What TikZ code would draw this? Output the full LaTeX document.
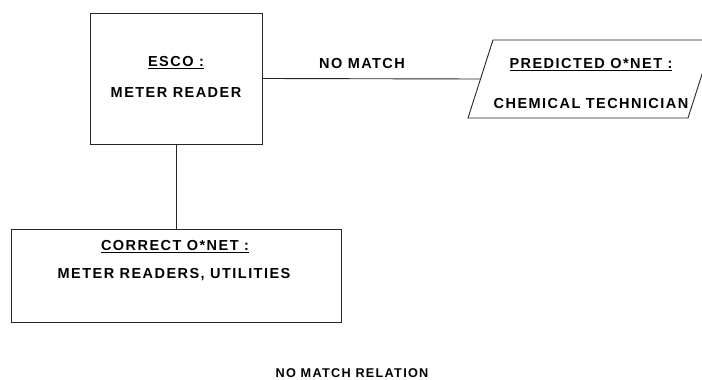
\documentclass[tikz,border=0pt]{standalone}
\usepackage{fontspec}
\setmainfont{Liberation Sans}[LetterSpace=10]
\begin{document}
\begin{tikzpicture}[x=1pt,y=-1pt,line width=0.9pt,
  every node/.style={font=\fontsize{14.5}{16}\selectfont\bfseries,inner sep=1pt},
  box/.style={draw=black!85,rectangle,minimum width=172pt,minimum height=131pt}]
\useasboundingbox (0,0) rectangle (702,380);
\path[clip] (0,0) rectangle (702,380);
\node[box] (esco) at (176,78.5) {};
\node[box,minimum width=330pt,minimum height=93pt] (correct) at (176,275.5) {};
% parallelogram for the prediction
\coordinate (pbl) at (468,118);
\coordinate (ptl) at (493,40);
\coordinate (ptr) at (713,40);
\coordinate (pbr) at (688,118);
\coordinate (predw) at (480.5,79);
\draw[black!85] (pbl) -- (ptl) -- (ptr) -- (pbr) -- cycle;
\draw[black!85] (esco.east) -- (predw);
\draw[black!85] (esco) -- (correct);
\node (escohead) at (176,63) {\underline{ESCO :}};
\node (esconame) at (176,93) {METER READER};
\node (predhead) at (591,65) {\underline{PREDICTED O*NET :}};
\node (predname) at (591,104) {CHEMICAL TECHNICIAN};
\node (corrhead) at (175,247) {\underline{CORRECT O*NET :}};
\node (corrname) at (174,275) {METER READERS, UTILITIES};
\node (nomatch) at (362,64) {NO MATCH};
\node[font=\fontsize{12.7}{14}\selectfont\bfseries] (caption) at (352,373) {NO MATCH RELATION};
\end{tikzpicture}
\end{document}
